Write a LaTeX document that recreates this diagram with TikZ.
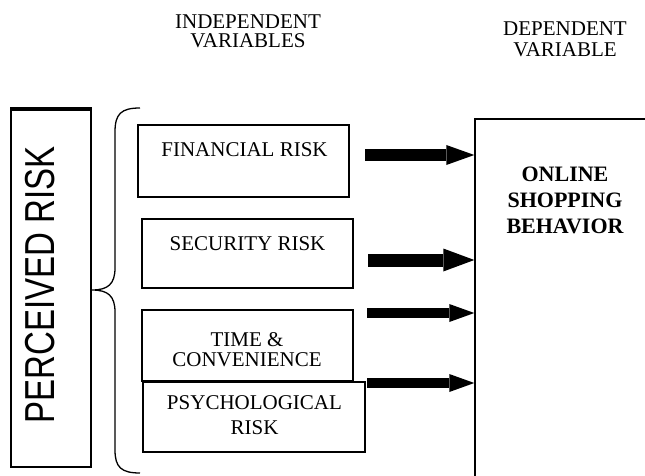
\documentclass[tikz,border=0pt]{standalone}
\usepackage{fontspec}
\setmainfont{Liberation Serif}
\newfontfamily\arialfont{Liberation Sans}
\usepackage{tikz}
\usetikzlibrary{calc}
\usetikzlibrary{arrows.meta}
\usetikzlibrary{positioning}

\tikzset{
  riskbox/.style={rectangle, draw=black, line width=1.6pt, inner sep=0pt},
  boxtext/.style={inner sep=0pt, align=center, font=\fontsize{21}{#1}\selectfont},
  boxtext/.default=21,
  depbold/.style={inner sep=0pt, align=center, font=\fontsize{22}{26}\selectfont\bfseries},
  fatarrow/.style n args={3}{line width=#1, -{Triangle[length=#2, width=#3, line width=0pt]}}
}

\begin{document}
\begin{tikzpicture}[x=1pt, y=-1pt]
\clip (0, 0) rectangle (645, 476);
\node [boxtext=19] (indep) at (248, 31) {INDEPENDENT\\VARIABLES};
\node [boxtext=21] (dep) at (565, 39) {DEPENDENT\\VARIABLE};
\node [riskbox, minimum width=80pt, minimum height=359pt] (perc) at (51, 287.5) {};
\draw [line width=4pt] ([yshift=-2pt]perc.north west) to ([yshift=-2pt]perc.north east);
\node [inner sep=0pt, rotate=90, yscale=1.27, font=\arialfont\fontsize{33}{33}\selectfont] (perclbl) at (40, 285) {PERCEIVED RISK};
\draw [line width=1.3pt] (140, 108) .. controls (121, 108) and (115, 114) .. (115, 132) -- (115, 268) .. controls (115, 284) and (108, 290) .. (92, 290) .. controls (108, 290) and (115, 296) .. (115, 312) -- (115, 450) .. controls (115, 467) and (121, 473) .. (140, 473);
\node [riskbox, minimum width=211pt, minimum height=72pt] (fin) at (243.5, 161) {};
\node [boxtext] (finlbl) at (244.5, 150) {FINANCIAL RISK};
\node [riskbox, minimum width=211pt, minimum height=69pt] (sec) at (247.5, 253.5) {};
\node [boxtext] (seclbl) at (247.5, 243.5) {SECURITY RISK};
\node [riskbox, minimum width=211pt, minimum height=71pt] (time) at (247.5, 345.5) {};
\node [boxtext=20] (timelbl) at (247, 350) {TIME \&\\CONVENIENCE};
\node [riskbox, minimum width=222pt, minimum height=70pt] (psy) at (254, 417) {};
\node [boxtext=25] (psylbl) at (254.5, 415) {PSYCHOLOGICAL\\RISK};
\node [riskbox, line width=1.4pt, minimum width=300pt, minimum height=500pt] (osb) at (625, 369) {};
\node [depbold] (osblbl) at (565, 200.5) {ONLINE\\SHOPPING\\BEHAVIOR};
\coordinate (a1) at (365, 155);
\coordinate (a2) at (368, 260);
\coordinate (a3) at (367, 313);
\coordinate (a4) at (367, 383);
\draw [fatarrow={11pt}{28pt}{20pt}] (a1) to (a1 -| osb.west);
\draw [fatarrow={13pt}{31pt}{23pt}] (a2) to (a2 -| osb.west);
\draw [fatarrow={10pt}{25pt}{18pt}] (a3) to (a3 -| osb.west);
\draw [fatarrow={10pt}{25pt}{18pt}] (a4) to (a4 -| osb.west);
\end{tikzpicture}
\end{document}
